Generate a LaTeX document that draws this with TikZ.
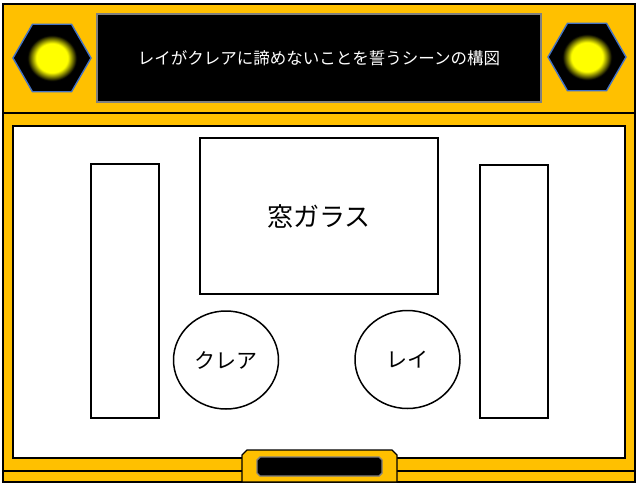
\documentclass[tikz,border=0pt]{standalone}
\usepackage{fontspec}
\newfontfamily\jpfont{Noto Sans CJK JP}
\usepackage{xcolor}
\usepackage{tikz}
\usetikzlibrary{positioning,shapes}
\definecolor{panelgold}{RGB}{255,192,0}
\definecolor{lampblue}{RGB}{68,114,196}
\definecolor{slotgray}{RGB}{128,128,128}
\pgfdeclareradialshading{lampglow}{\pgfpoint{0bp}{0bp}}{%
  color(0bp)=(yellow); color(14bp)=(yellow); color(22bp)=(black); color(25bp)=(black); color(50bp)=(black)}
\tikzset{
  panel/.style={draw=black, fill=panelgold, line width=1.4pt},
  stage/.style={draw=black, fill=white, line width=1.4pt},
  lamp/.style={regular polygon, regular polygon sides=6, draw=lampblue, fill=black,
     line width=1.4pt, minimum size=78pt, inner sep=0pt},
  screen/.style={draw=slotgray, fill=black, line width=1.4pt, text=white,
     font=\jpfont\fontsize{16.5}{19}\selectfont},
  prop/.style={draw=black, rectangle, line width=1.5pt},
  actor/.style={draw=black, ellipse, line width=1.5pt, inner sep=0pt,
     minimum width=105pt, minimum height=98pt, font=\jpfont\fontsize{21}{25}\selectfont},
}
\begin{document}
\begin{tikzpicture}[x=1pt, y=-1pt]
  \useasboundingbox (0,0) rectangle (640,485);

  % Frame
  \draw[panel] (3,4) rectangle (635,113);
  \draw[panel] (3,113) rectangle (635,471);
  \draw[panel] (3,471) rectangle (635,482);
  \draw[stage] (13,126) rectangle (625,458);

  % Stage
  \node[prop, minimum width=68pt, minimum height=254pt] (pillarL) at (125,291) {};
  \node[prop, minimum width=68pt, minimum height=253pt] (pillarR) at (514,291.5) {};
  \node[prop, minimum width=238pt, minimum height=156pt,
        font=\jpfont\fontsize{26}{31}\selectfont] (window) at (319,216) {窓ガラス};
  \node[actor] (clare) at (226,360) {クレア};
  \node[actor] (rei) at (407.5,359.5) {レイ};

  % Bottom tab
  \draw[panel] (242,482) -- (242,455) -- (247,450) -- (392,450) -- (397,455) -- (397,482) -- cycle;
  \draw[draw=slotgray, fill=black, line width=1.4pt]
    (260,457) -- (379,457) -- (382,460) -- (382,473) -- (379,476)
    -- (260,476) -- (257,473) -- (257,460) -- cycle;

  % Title and lamps
  \node[screen, minimum width=444pt, minimum height=88pt] (title) at (319,58)
    {レイがクレアに諦めないことを誓うシーンの構図};
  \node[lamp] (lampL) at (52,58) {};
  \node[lamp] (lampR) at (587,57) {};
  \shade[shading=lampglow] (lampL.center) ellipse [x radius=28pt, y radius=26pt];
  \shade[shading=lampglow] (lampR.center) ellipse [x radius=28pt, y radius=26pt];
\end{tikzpicture}
\end{document}
